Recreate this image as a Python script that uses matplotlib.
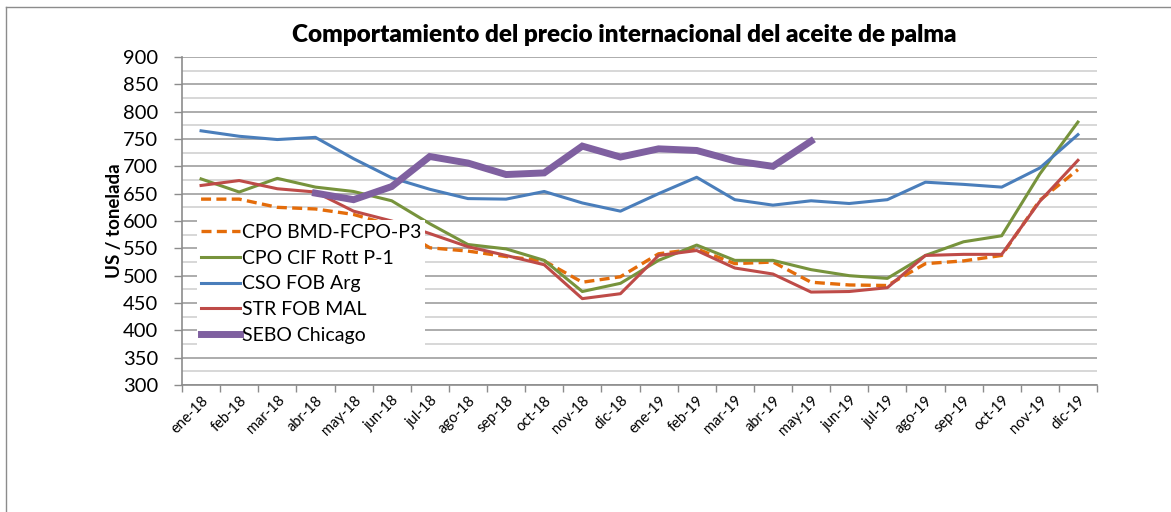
import numpy as np
import matplotlib
matplotlib.use("Agg")
import matplotlib.pyplot as plt
from matplotlib.lines import Line2D

months = ['ene-18', 'feb-18', 'mar-18', 'abr-18', 'may-18', 'jun-18', 'jul-18', 'ago-18',
          'sep-18', 'oct-18', 'nov-18', 'dic-18', 'ene-19', 'feb-19', 'mar-19', 'abr-19',
          'may-19', 'jun-19', 'jul-19', 'ago-19', 'sep-19', 'oct-19', 'nov-19', 'dic-19']

cpo_bmd = [640, 640, 625, 622, 612, 592, 551, 545, 535, 527, 488, 498,
           540, 549, 522, 525, 488, 483, 482, 522, 527, 537, 638, 694]
cpo_cif = [677, 653, 678, 662, 654, 637, 595, 557, 549, 528, 471, 486,
           528, 556, 528, 528, 511, 500, 495, 537, 562, 573, 686, 781]
cso_fob = [765, 755, 749, 753, 714, 679, 658, 641, 640, 654, 633, 618,
           650, 680, 639, 629, 637, 632, 639, 671, 667, 662, 697, 758]
str_fob = [665, 674, 659, 653, 618, 600, 577, 553, 537, 520, 458, 467,
           537, 546, 514, 503, 470, 471, 478, 537, 539, 539, 636, 711]
sebo = [None, None, None, 651, 639, 663, 718, 706, 685, 688, 737, 717,
        732, 729, 710, 700, 746, None, None, None, None, None, None, None]

labels = ['CPO BMD-FCPO-P3', 'CPO CIF Rott P-1', 'CSO FOB Arg', 'STR FOB MAL', 'SEBO Chicago']
yticks = list(range(300, 901, 50))

plt.rcParams['font.family'] = ['Lato', 'DejaVu Sans']

W, H = 1171, 512
fig = plt.figure(figsize=(W / 100, H / 100), dpi=100)
fig.patch.set_facecolor('white')

# chart border (left and top visible)
fig.add_artist(Line2D([6 / W, 6 / W], [0, 1 - 7 / H], transform=fig.transFigure, color='#8c8c8c', lw=1.0))
fig.add_artist(Line2D([6 / W, 1], [1 - 7 / H, 1 - 7 / H], transform=fig.transFigure, color='#8c8c8c', lw=1.0))

left, right, top, bottom = 182, 1097, 57, 385
ax = fig.add_axes([left / W, 1 - bottom / H, (right - left) / W, (bottom - top) / H])

x = np.arange(len(months))
sebo_arr = np.array([np.nan if v is None else v for v in sebo], dtype=float)

l1, = ax.plot(x, cpo_bmd, color='#E46C0A', lw=2.4, ls=(0, (3, 1.6)), zorder=3)
l2, = ax.plot(x, cpo_cif, color='#77933C', lw=2.2, zorder=3)
l3, = ax.plot(x, cso_fob, color='#4A7EBB', lw=2.2, zorder=3)
l4, = ax.plot(x, str_fob, color='#BE4B48', lw=2.2, zorder=3)
l5, = ax.plot(x, sebo_arr, color='#7F60A0', lw=5.0, zorder=3, solid_joinstyle='miter')

ax.set_xlim(-0.5, len(months) - 0.5)
ax.set_ylim(300, 900)
ax.set_yticks(yticks)
ax.set_yticks(list(range(325, 900, 50)), minor=True)
ax.tick_params(axis='y', which='major', labelsize=14.5, length=6, color='#8c8c8c', width=1, pad=11)
ax.tick_params(axis='y', which='minor', length=0)
ax.grid(axis='y', which='major', color='#a6a6a6', lw=1.3, zorder=0)
ax.grid(axis='y', which='minor', color='#d4d4d4', lw=1.3, zorder=0)

ax.set_xticks(x)
ax.set_xticklabels(months, rotation=45, ha='right', va='top', rotation_mode='anchor', fontsize=10.5)
ax.tick_params(axis='x', which='major', length=0, pad=6)
ax.set_xticks(np.arange(-0.5, len(months) + 0.5, 1), minor=True)
ax.tick_params(axis='x', which='minor', length=5, color='#8c8c8c', width=1)

for s in ['top', 'right']:
    ax.spines[s].set_visible(False)
for s in ['left', 'bottom']:
    ax.spines[s].set_color('#8c8c8c')
    ax.spines[s].set_linewidth(1.2)

ax.set_ylabel('US / tonelada', fontsize=13.5, fontweight='bold', labelpad=0)
ax.set_title('Comportamiento del precio internacional del aceite de palma',
             fontsize=17.5, fontweight='heavy', pad=11, x=(624 - left) / (right - left))

leg = ax.legend([l1, l2, l3, l4, l5], labels, loc='upper left',
                bbox_to_anchor=((197 - left) / (right - left), (bottom - 220) / (bottom - top)),
                frameon=True, fancybox=False, framealpha=1, edgecolor='white',
                fontsize=14, handlelength=2.0, handletextpad=0.1, labelspacing=0.45,
                borderpad=0.2, borderaxespad=0)
leg.set_zorder(5)
leg.get_frame().set_linewidth(0)

fig.savefig('out.png', dpi=100, facecolor='white')
